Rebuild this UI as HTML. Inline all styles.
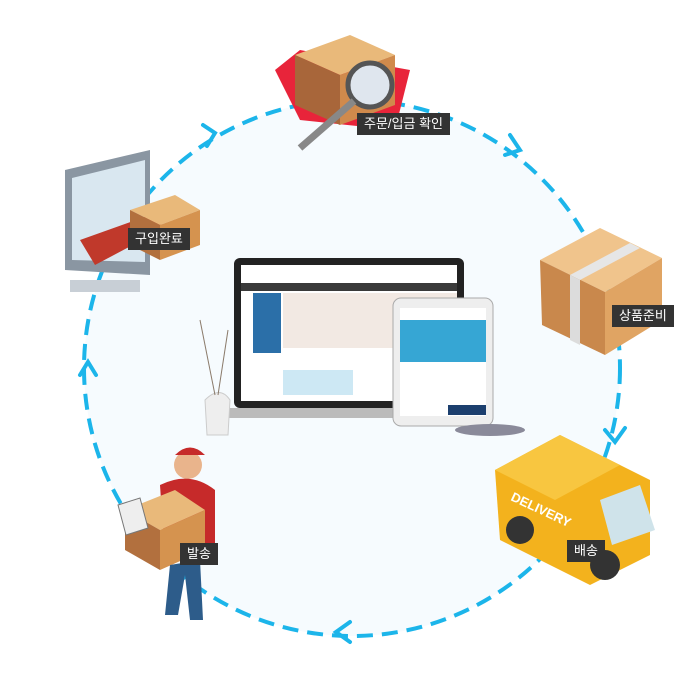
<!DOCTYPE html>
<html><head><meta charset="utf-8"><style>
body{margin:0;background:#fff;width:700px;height:700px;overflow:hidden;position:relative;font-family:"Liberation Sans","Noto Sans CJK KR",sans-serif}
.lb{position:absolute;background:#333;color:#fff;font-size:13px;line-height:22px;padding:0 7px;white-space:nowrap}
</style></head><body>
<svg width="700" height="700" style="position:absolute;left:0;top:0">
<circle cx="352" cy="368" r="268" fill="#f6fbfe" stroke="#1cb5ea" stroke-width="4" stroke-dasharray="16 9"/>
<g fill="none" stroke="#1cb5ea" stroke-width="4" stroke-linecap="round">
<polyline points="203,125 215,133 207,146"/>
<polyline points="510,135 520,150 505,155"/>
<polyline points="605,430 615,442 625,428"/>
<polyline points="350,622 336,632 350,642"/>
<polyline points="80,375 88,362 96,375"/>
</g>
<!-- box top -->
<polygon points="275,70 300,50 410,70 395,130 300,120" fill="#e8243a"/>
<polygon points="295,55 350,35 395,55 340,75" fill="#e9b97a"/>
<polygon points="295,55 340,75 340,125 295,105" fill="#a8663a"/>
<polygon points="340,75 395,55 395,105 340,125" fill="#d08a4c"/>
<circle cx="370" cy="85" r="22" fill="#dfe6ee" stroke="#555" stroke-width="5"/>
<line x1="354" y1="101" x2="300" y2="148" stroke="#888" stroke-width="7"/>
<!-- monitor -->
<polygon points="65,170 150,150 150,275 65,270" fill="#8a96a2"/>
<polygon points="72,178 145,160 145,262 72,260" fill="#d9e7f0"/>
<rect x="70" y="280" width="70" height="12" fill="#c8cfd6"/>
<path d="M80,240 L150,215 L165,228 L95,265 Z" fill="#c0392b"/>
<polygon points="130,210 175,195 200,210 160,225" fill="#e9b97a"/>
<polygon points="130,210 160,225 160,260 130,245" fill="#b2703e"/>
<polygon points="160,225 200,210 200,245 160,260" fill="#d5934f"/>
<!-- box right -->
<polygon points="540,260 600,228 662,258 605,292" fill="#f0c48c"/>
<polygon points="540,260 605,292 605,355 542,325" fill="#c9884c"/>
<polygon points="605,292 662,258 662,320 605,355" fill="#e0a463"/>
<polygon points="570,275 630,243 640,248 580,280" fill="#e6e6e6"/>
<polygon points="570,275 580,280 580,345 570,340" fill="#dcdcdc"/>
<!-- truck -->
<polygon points="495,470 560,435 650,480 650,555 590,585 500,540" fill="#f3b21d"/>
<polygon points="495,470 560,435 620,465 555,500" fill="#f8c640"/>
<polygon points="600,500 640,485 655,530 612,545" fill="#cfe3ea"/>
<circle cx="520" cy="530" r="14" fill="#333"/><circle cx="605" cy="565" r="15" fill="#333"/>
<text x="510" y="500" font-size="13" font-weight="bold" fill="#fff" transform="rotate(25 510 500)">DELIVERY</text>
<!-- person -->
<circle cx="188" cy="465" r="14" fill="#e9b48c"/>
<path d="M175,455 Q190,440 205,455 Z" fill="#c62a2a"/>
<path d="M160,485 Q190,470 215,490 L215,560 L165,560 Z" fill="#c62a2a"/>
<polygon points="125,510 175,490 205,510 160,530" fill="#e9b97a"/>
<polygon points="125,510 160,530 160,570 125,550" fill="#b2703e"/>
<polygon points="160,530 205,510 205,550 160,570" fill="#d5934f"/>
<path d="M170,565 L165,615 L178,615 L185,575 L190,620 L203,620 L200,560 Z" fill="#2d5c8a"/>
<polygon points="118,505 140,498 148,528 126,535" fill="#eee" stroke="#777"/>
<!-- laptop -->
<rect x="234" y="258" width="230" height="150" rx="6" fill="#222"/>
<rect x="241" y="265" width="216" height="136" fill="#fff"/>
<rect x="241" y="283" width="216" height="8" fill="#3a3a3a"/>
<rect x="253" y="293" width="28" height="60" fill="#2b6fa8"/>
<rect x="283" y="293" width="174" height="55" fill="#f2e9e3"/>
<rect x="283" y="370" width="70" height="25" fill="#cde8f4"/>
<polygon points="224,408 475,408 485,418 214,418" fill="#bbb"/>
<rect x="393" y="298" width="100" height="128" rx="8" fill="#eee" stroke="#aaa"/>
<rect x="400" y="308" width="86" height="108" fill="#fff"/>
<rect x="400" y="320" width="86" height="42" fill="#36a6d4"/>
<rect x="448" y="405" width="38" height="10" fill="#1c3f6e"/>
<path d="M205,400 Q220,385 230,400 L228,435 L207,435 Z" fill="#eee" stroke="#ccc"/>
<line x1="215" y1="395" x2="200" y2="320" stroke="#8a7a6a"/>
<line x1="218" y1="395" x2="228" y2="330" stroke="#8a7a6a"/>
<ellipse cx="490" cy="430" rx="35" ry="6" fill="#8a8a9a"/>
</svg>
<div class="lb" style="left:357px;top:113px">주문/입금 확인</div>
<div class="lb" style="left:128px;top:228px">구입완료</div>
<div class="lb" style="left:612px;top:305px">상품준비</div>
<div class="lb" style="left:567px;top:540px">배송</div>
<div class="lb" style="left:180px;top:543px">발송</div>
</body></html>
